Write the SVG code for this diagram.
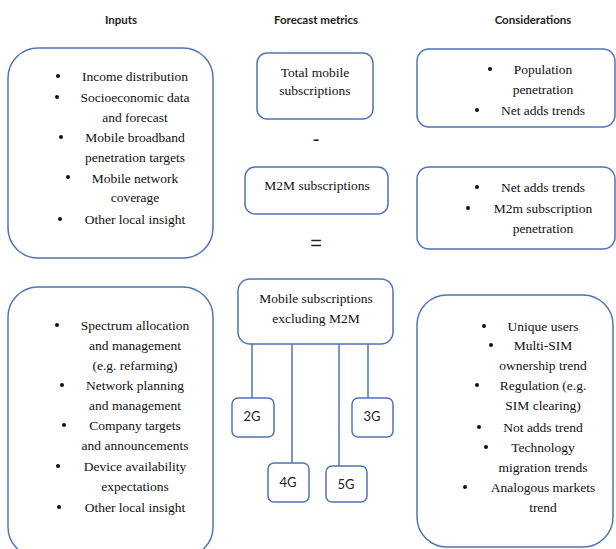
<svg xmlns="http://www.w3.org/2000/svg" width="616" height="549" viewBox="0 0 616 549">
<style>
.hdr{font-family:Lato,"Open Sans","Liberation Sans",sans-serif;font-weight:bold;font-size:11.5px;fill:#222;text-anchor:middle}
.box{fill:#fff;stroke:#4f74b8;stroke-width:1.5}
.t{font-size:13.5px;fill:#111;text-anchor:middle}
.s{font-family:Lato,"Open Sans","Liberation Sans",sans-serif;font-size:13px;fill:#222;text-anchor:middle}
.op{font-family:"Liberation Sans",sans-serif;font-size:20px;fill:#222;text-anchor:middle}
.b{fill:#111}
.ln{stroke:#4f74b8;stroke-width:1.5;fill:none}
</style>
<rect width="616" height="549" fill="#fff"/>
<g id="headers">
<text class="hdr" x="121" y="24">Inputs</text>
<text class="hdr" x="316" y="24">Forecast metrics</text>
<text class="hdr" x="533" y="24">Considerations</text>
</g>
<g id="connectors">
<line class="ln" x1="252" y1="344" x2="252" y2="398"/>
<line class="ln" x1="292" y1="344" x2="292" y2="463"/>
<line class="ln" x1="339" y1="344" x2="339" y2="466"/>
<line class="ln" x1="368" y1="344" x2="368" y2="398"/>
</g>
<g font-family="Liberation Serif, Tinos, DejaVu Serif, Noto Serif, Times New Roman, serif">
<g id="inputs-top">
<rect class="box" x="8" y="48" width="205" height="210" rx="30"/>
<circle class="b" cx="58" cy="76" r="2"/><text class="t" x="135" y="81">Income distribution</text>
<circle class="b" cx="57" cy="97" r="2"/><text class="t" x="135" y="102">Socioeconomic data</text>
<text class="t" x="135" y="122">and forecast</text>
<circle class="b" cx="61" cy="137" r="2"/><text class="t" x="135" y="142">Mobile broadband</text>
<text class="t" x="135" y="162">penetration targets</text>
<circle class="b" cx="68" cy="177" r="2"/><text class="t" x="135" y="183">Mobile network</text>
<text class="t" x="135" y="202">coverage</text>
<circle class="b" cx="60" cy="219" r="2"/><text class="t" x="135" y="224">Other local insight</text>
</g>
<g id="total-mobile">
<rect class="box" x="257" y="53" width="116" height="66" rx="10"/>
<text class="t" x="315" y="77">Total mobile</text>
<text class="t" x="315" y="95">subscriptions</text>
</g>
<g id="minus"><text class="op" x="316" y="146">-</text></g>
<g id="m2m">
<rect class="box" x="245" y="167" width="143" height="47" rx="10"/>
<text class="t" x="317" y="190">M2M subscriptions</text>
</g>
<g id="equals"><text class="op" x="316" y="250">=</text></g>
<g id="cons-top">
<rect class="box" x="417" y="49" width="198" height="78" rx="12"/>
<circle class="b" cx="490" cy="69" r="2"/><text class="t" x="543" y="74">Population</text>
<text class="t" x="543" y="94">penetration</text>
<circle class="b" cx="477" cy="110" r="2"/><text class="t" x="543" y="115">Net adds trends</text>
</g>
<g id="cons-mid">
<rect class="box" x="417" y="167" width="198" height="82" rx="12"/>
<circle class="b" cx="477" cy="187" r="2"/><text class="t" x="543" y="192">Net adds trends</text>
<circle class="b" cx="468" cy="208" r="2"/><text class="t" x="543" y="213">M2m subscription</text>
<text class="t" x="543" y="233">penetration</text>
</g>
<g id="inputs-bottom">
<rect class="box" x="8" y="287" width="205" height="270" rx="30"/>
<circle class="b" cx="57" cy="325" r="2"/><text class="t" x="135" y="330">Spectrum allocation</text>
<text class="t" x="135" y="350">and management</text>
<text class="t" x="135" y="370">(e.g. refarming)</text>
<circle class="b" cx="62" cy="385" r="2"/><text class="t" x="135" y="390">Network planning</text>
<text class="t" x="135" y="410">and management</text>
<circle class="b" cx="64" cy="425" r="2"/><text class="t" x="135" y="430">Company targets</text>
<text class="t" x="135" y="450">and announcements</text>
<circle class="b" cx="58" cy="466" r="2"/><text class="t" x="135" y="471">Device availability</text>
<text class="t" x="135" y="491">expectations</text>
<circle class="b" cx="59" cy="507" r="2"/><text class="t" x="135" y="512">Other local insight</text>
</g>
<g id="mobile-excl">
<rect class="box" x="238" y="279" width="155" height="65" rx="12"/>
<text class="t" x="316" y="303">Mobile subscriptions</text>
<text class="t" x="316" y="323">excluding M2M</text>
</g>
<g id="cons-bottom">
<rect class="box" x="417" y="295" width="196" height="252" rx="30"/>
<circle class="b" cx="484" cy="326" r="2"/><text class="t" x="543" y="331">Unique users</text>
<circle class="b" cx="491" cy="345" r="2"/><text class="t" x="543" y="350">Multi-SIM</text>
<text class="t" x="543" y="370">ownership trend</text>
<circle class="b" cx="477" cy="385" r="2"/><text class="t" x="543" y="390">Regulation (e.g.</text>
<text class="t" x="543" y="410">SIM clearing)</text>
<circle class="b" cx="479" cy="427" r="2"/><text class="t" x="543" y="432">Not adds trend</text>
<circle class="b" cx="486" cy="447" r="2"/><text class="t" x="543" y="452">Technology</text>
<text class="t" x="543" y="472">migration trends</text>
<circle class="b" cx="465" cy="487" r="2"/><text class="t" x="543" y="492">Analogous markets</text>
<text class="t" x="543" y="512">trend</text>
</g>
</g>
<g id="g2">
<rect class="box" x="232" y="398" width="42" height="39" rx="6"/>
<text class="s" x="252" y="421">2G</text>
</g>
<g id="g3">
<rect class="box" x="352" y="398" width="41" height="39" rx="6"/>
<text class="s" x="372" y="421">3G</text>
</g>
<g id="g4">
<rect class="box" x="268" y="463" width="41" height="39" rx="6"/>
<text class="s" x="288" y="487">4G</text>
</g>
<g id="g5">
<rect class="box" x="326" y="466" width="41" height="36" rx="6"/>
<text class="s" x="346" y="489">5G</text>
</g>
</svg>
